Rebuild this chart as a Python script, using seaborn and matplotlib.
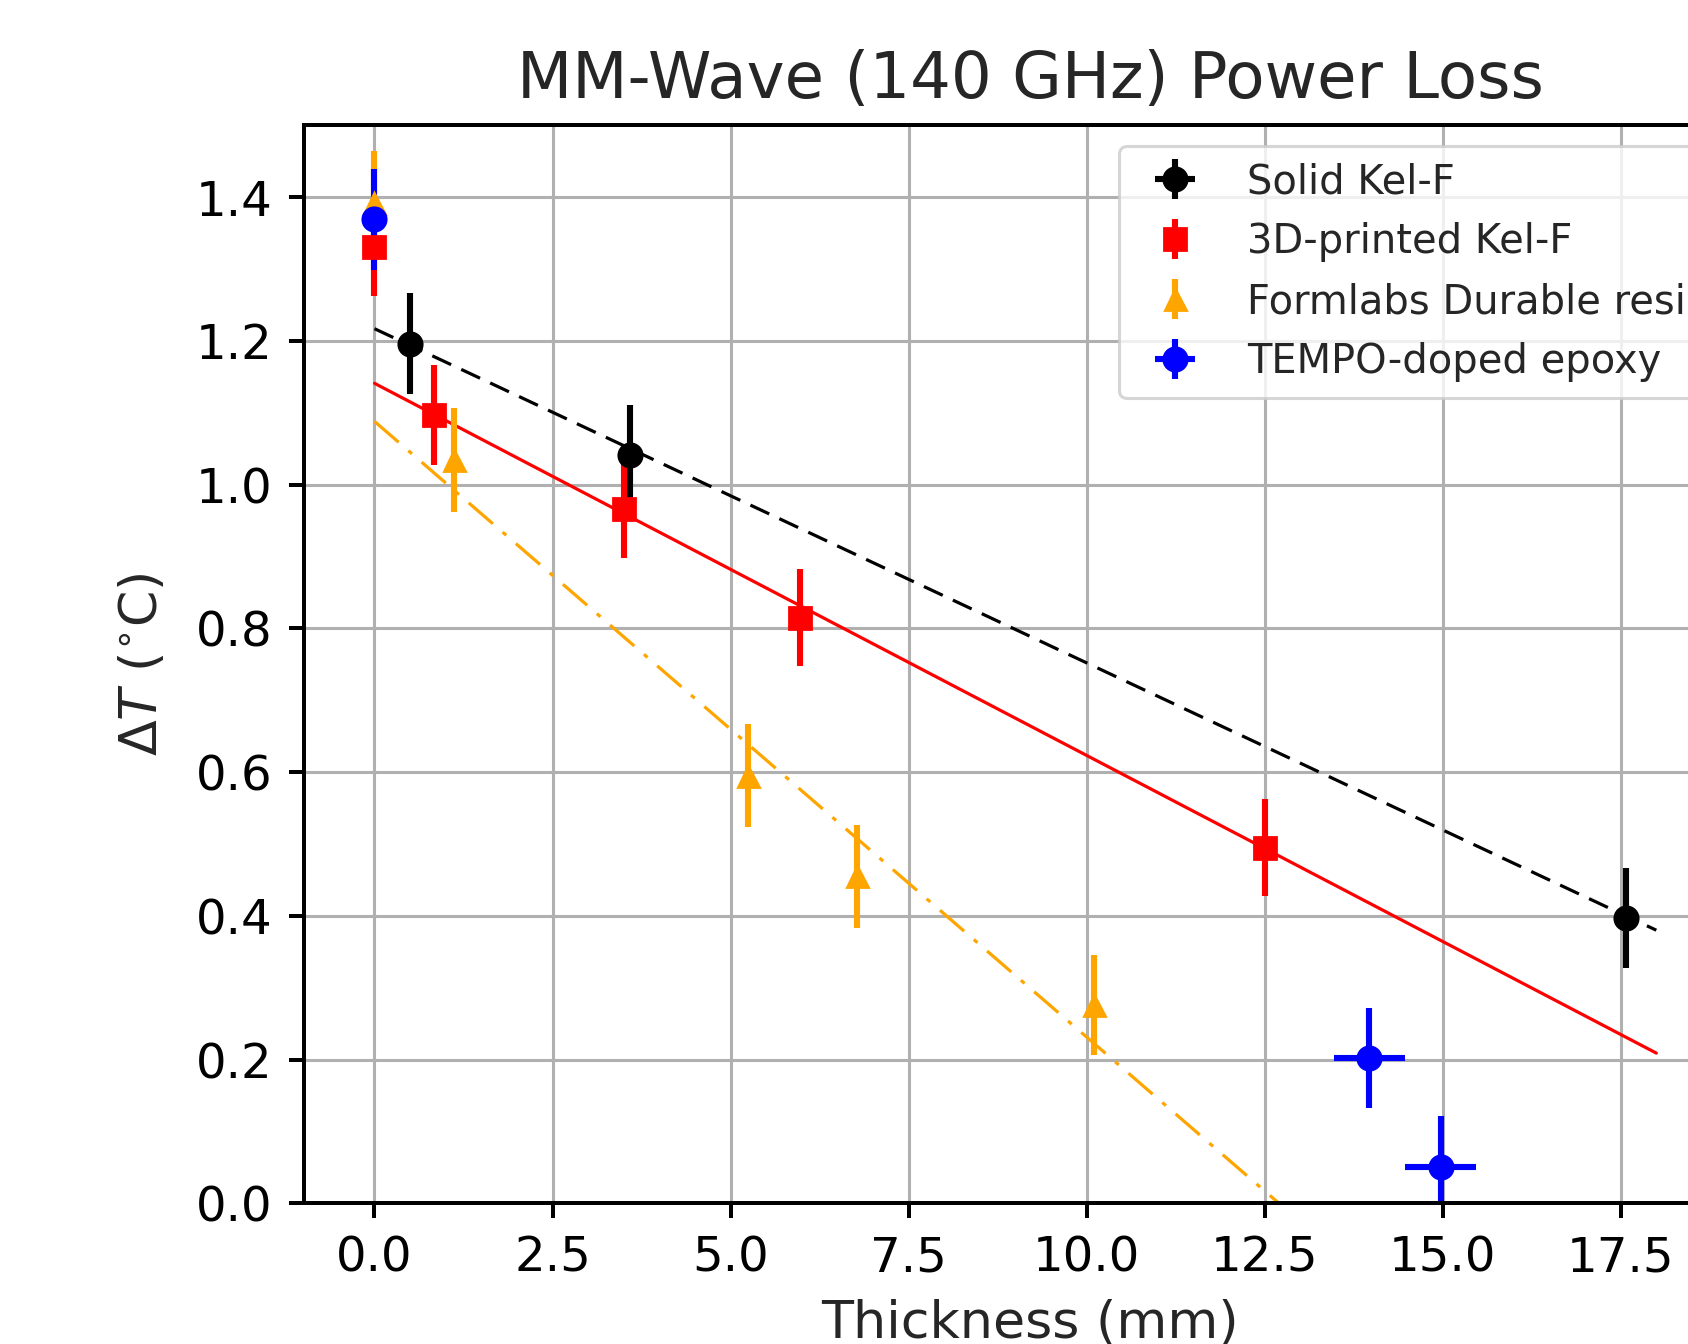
import numpy as np
import pandas as pd
import seaborn as sns
import matplotlib
matplotlib.use("Agg")
import matplotlib.pyplot as plt

# measured points (thickness in mm, delta T in C)
solid_x = [0.5, 3.59, 17.58]
solid_y = [1.196, 1.041, 0.397]
solid_yerr = [0.07, 0.07, 0.07]
solid_xerr = [0.05, 0.05, 0.05]

printed_x = [0.0, 0.83, 3.51, 5.98, 12.51]
printed_y = [1.330, 1.097, 0.966, 0.815, 0.495]
printed_yerr = [0.068, 0.07, 0.068, 0.068, 0.068]

formlabs_x = [0.0, 1.12, 5.24, 6.77, 10.11]
formlabs_y = [1.392, 1.034, 0.595, 0.455, 0.276]
formlabs_yerr = [0.072, 0.072, 0.072, 0.072, 0.07]

tempo_x = [0.0, 13.97, 14.97]
tempo_y = [1.369, 0.202, 0.051]
tempo_yerr = [0.07, 0.07, 0.07]
tempo_xerr = [0.05, 0.5, 0.5]

# linear fits, end points at 0 and 18 mm
fit_x = [0.0, 18.0]
solid_fit = [1.217, 0.380]
printed_fit = [1.141, 0.209]
formlabs_fit = [1.088, -0.454]

labels = ["Solid Kel-F", "3D-printed Kel-F", "Formlabs Durable resin", "TEMPO-doped epoxy"]

sns.set_style("whitegrid")
plt.rcParams["font.family"] = ["DejaVu Sans"]
plt.rcParams["mathtext.fontset"] = "dejavusans"
plt.rcParams["axes.edgecolor"] = "black"
plt.rcParams["axes.linewidth"] = 1.44
plt.rcParams["grid.color"] = "#b0b0b0"
plt.rcParams["grid.linewidth"] = 1.1
plt.rcParams["xtick.bottom"] = True
plt.rcParams["ytick.left"] = True
plt.rcParams["xtick.major.size"] = 5.4
plt.rcParams["ytick.major.size"] = 5.4
plt.rcParams["xtick.major.width"] = 1.44
plt.rcParams["ytick.major.width"] = 1.44
plt.rcParams["xtick.color"] = "black"
plt.rcParams["ytick.color"] = "black"

fig = plt.figure(figsize=(8.44, 6.72), dpi=200)
ax = fig.add_axes([0.18009, 0.10469, 0.8602, 0.80208])

# fit lines
sns.lineplot(x=fit_x, y=solid_fit, color="black", lw=1.15,
             linestyle=(0, (6.5, 3.5)), ax=ax)
sns.lineplot(x=fit_x, y=printed_fit, color="red", lw=1.15, ax=ax)
sns.lineplot(x=fit_x, y=formlabs_fit, color="orange", lw=1.15,
             linestyle=(0, (10, 4, 1.5, 4)), ax=ax)

ms = 8.4
elw = 2.2
eb1 = ax.errorbar(solid_x, solid_y, yerr=solid_yerr, xerr=solid_xerr, fmt="o",
                  color="black", ms=ms, elinewidth=elw, label=labels[0])
eb2 = ax.errorbar(printed_x, printed_y, yerr=printed_yerr, fmt="s",
                  color="red", ms=ms * 0.95, elinewidth=elw, label=labels[1])
eb3 = ax.errorbar(formlabs_x, formlabs_y, yerr=formlabs_yerr, fmt="^",
                  color="orange", ms=ms * 0.9, elinewidth=elw, label=labels[2])
eb4 = ax.errorbar(tempo_x, tempo_y, yerr=tempo_yerr, xerr=tempo_xerr, fmt="o",
                  color="blue", ms=ms, elinewidth=elw, label=labels[3])

ax.set_xlim(-0.99, 19.40)
ax.set_ylim(0, 1.5)
ax.set_xticks(np.arange(0, 19, 2.5))
ax.set_yticks(np.arange(0, 1.41, 0.2))
ax.tick_params(labelsize=17.4, pad=6)
ax.grid(True)

ax.set_title("MM-Wave (140 GHz) Power Loss", fontsize=23.1, pad=10)
ax.set_xlabel("Thickness (mm)", fontsize=18.8, labelpad=6)
ax.set_ylabel(r"$\Delta T$ ($^{\circ}$C)", fontsize=18.8, labelpad=10)

leg = ax.legend(handles=[eb1, eb2, eb3, eb4], labels=labels, fontsize=14.4,
                loc="upper left", bbox_to_anchor=(1119 / 1688, 1 - 146 / 1344),
                bbox_transform=fig.transFigure, borderaxespad=0,
                labelspacing=0.5, frameon=True, framealpha=0.8, fancybox=True)
leg.get_frame().set_edgecolor("#cccccc")
leg.get_frame().set_linewidth(1.1)

fig.savefig("out.png", dpi=200)
